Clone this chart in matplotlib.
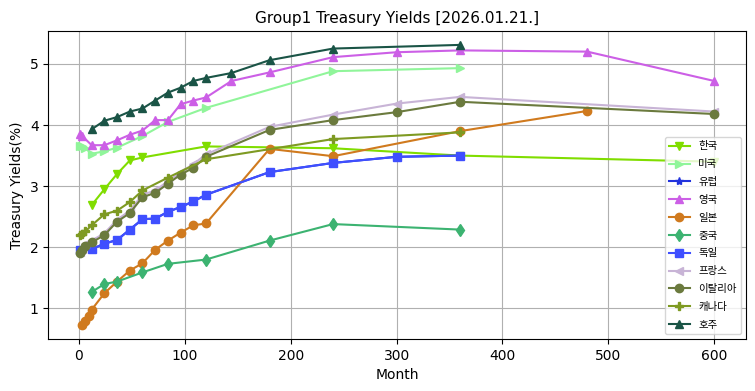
import matplotlib
matplotlib.use('Agg')
import matplotlib.pyplot as plt

plt.rcParams['font.family'] = ['DejaVu Sans', 'Noto Sans CJK KR']

# months / yields
kr_m = [12, 24, 36, 48, 60, 120, 240, 360, 600]
kr_y = [2.69, 2.95, 3.20, 3.42, 3.47, 3.65, 3.62, 3.50, 3.40]

us_m = [1, 3, 6, 12, 24, 36, 60, 84, 120, 240, 360]
us_y = [3.65, 3.66, 3.62, 3.53, 3.57, 3.63, 3.82, 4.05, 4.28, 4.88, 4.93]

eu_m = [1, 12, 24, 36, 48, 60, 72, 84, 96, 108, 120, 180, 240, 300, 360]
eu_y = [1.95, 1.97, 2.06, 2.12, 2.29, 2.46, 2.47, 2.58, 2.66, 2.75, 2.86, 3.23, 3.38, 3.48, 3.50]

uk_m = [1, 3, 12, 24, 36, 48, 60, 72, 84, 96, 108, 120, 144, 180, 240, 300, 360, 480, 600]
uk_y = [3.85, 3.82, 3.67, 3.67, 3.75, 3.84, 3.91, 4.08, 4.08, 4.34, 4.40, 4.45, 4.72,
        4.86, 5.11, 5.19, 5.22, 5.20, 4.72]

jp_m = [3, 6, 9, 12, 24, 36, 48, 60, 72, 84, 96, 108, 120, 180, 240, 360, 480]
jp_y = [0.73, 0.79, 0.87, 0.98, 1.25, 1.44, 1.62, 1.74, 1.96, 2.11, 2.24, 2.36, 2.39,
        3.61, 3.49, 3.90, 4.23]

cn_m = [12, 24, 36, 60, 84, 120, 180, 240, 360]
cn_y = [1.27, 1.40, 1.44, 1.59, 1.73, 1.80, 2.11, 2.38, 2.29]

de_m = [1, 12, 24, 36, 48, 60, 72, 84, 96, 108, 120, 180, 240, 300, 360]
de_y = [1.95, 1.97, 2.06, 2.12, 2.29, 2.46, 2.47, 2.58, 2.66, 2.75, 2.86, 3.23, 3.38, 3.48, 3.50]

fr_m = [1, 3, 6, 12, 24, 36, 48, 60, 72, 84, 96, 108, 120, 180, 240, 300, 360, 600]
fr_y = [1.93, 1.98, 2.05, 2.11, 2.23, 2.45, 2.60, 2.86, 2.93, 3.08, 3.23, 3.36, 3.52,
        3.97, 4.17, 4.35, 4.46, 4.22]

it_m = [1, 3, 6, 12, 24, 36, 48, 60, 72, 84, 96, 108, 120, 180, 240, 300, 360, 600]
it_y = [1.90, 1.95, 2.02, 2.08, 2.20, 2.42, 2.56, 2.82, 2.89, 3.04, 3.19, 3.30, 3.48,
        3.92, 4.08, 4.21, 4.38, 4.18]

ca_m = [1, 3, 6, 12, 24, 36, 48, 60, 84, 120, 240, 360]
ca_y = [2.20, 2.22, 2.26, 2.36, 2.54, 2.60, 2.74, 2.93, 3.14, 3.44, 3.77, 3.88]

au_m = [12, 24, 36, 48, 60, 72, 84, 96, 108, 120, 144, 180, 240, 360]
au_y = [3.93, 4.07, 4.13, 4.22, 4.27, 4.40, 4.53, 4.61, 4.72, 4.77, 4.85, 5.06, 5.25, 5.31]

fig, ax = plt.subplots(figsize=(7.55, 3.91), dpi=100)

ax.plot(kr_m, kr_y, 'v-', color='#80DD00', label='한국')
ax.plot(us_m, us_y, '>-', color='#90F59A', label='미국')
ax.plot(eu_m, eu_y, '*-', color='#2233DD', label='유럽')
ax.plot(uk_m, uk_y, '^-', color='#CC5FE6', label='영국')
ax.plot(jp_m, jp_y, 'o-', color='#D07A1E', label='일본')
ax.plot(cn_m, cn_y, 'd-', color='#3CB371', label='중국')
ax.plot(de_m, de_y, 's-', color='#3F4FFF', label='독일')
ax.plot(fr_m, fr_y, '<-', color='#C8B4D6', label='프랑스')
ax.plot(it_m, it_y, 'o-', color='#6B7A3E', label='이탈리아')
ax.plot(ca_m, ca_y, 'P-', color='#7E9A22', label='캐나다')
ax.plot(au_m, au_y, '^-', color='#1A5446', label='호주')

ax.set_xlabel('Month')
ax.set_ylabel('Treasury Yields(%)')
ax.set_title('Group1 Treasury Yields [2026.01.21.]', fontsize=11)
ax.grid(True)
ax.legend(loc='lower right', fontsize=7.5, labelspacing=0.75)

plt.subplots_adjust(left=0.064, right=0.988, top=0.921, bottom=0.133)
plt.savefig('out.png')
